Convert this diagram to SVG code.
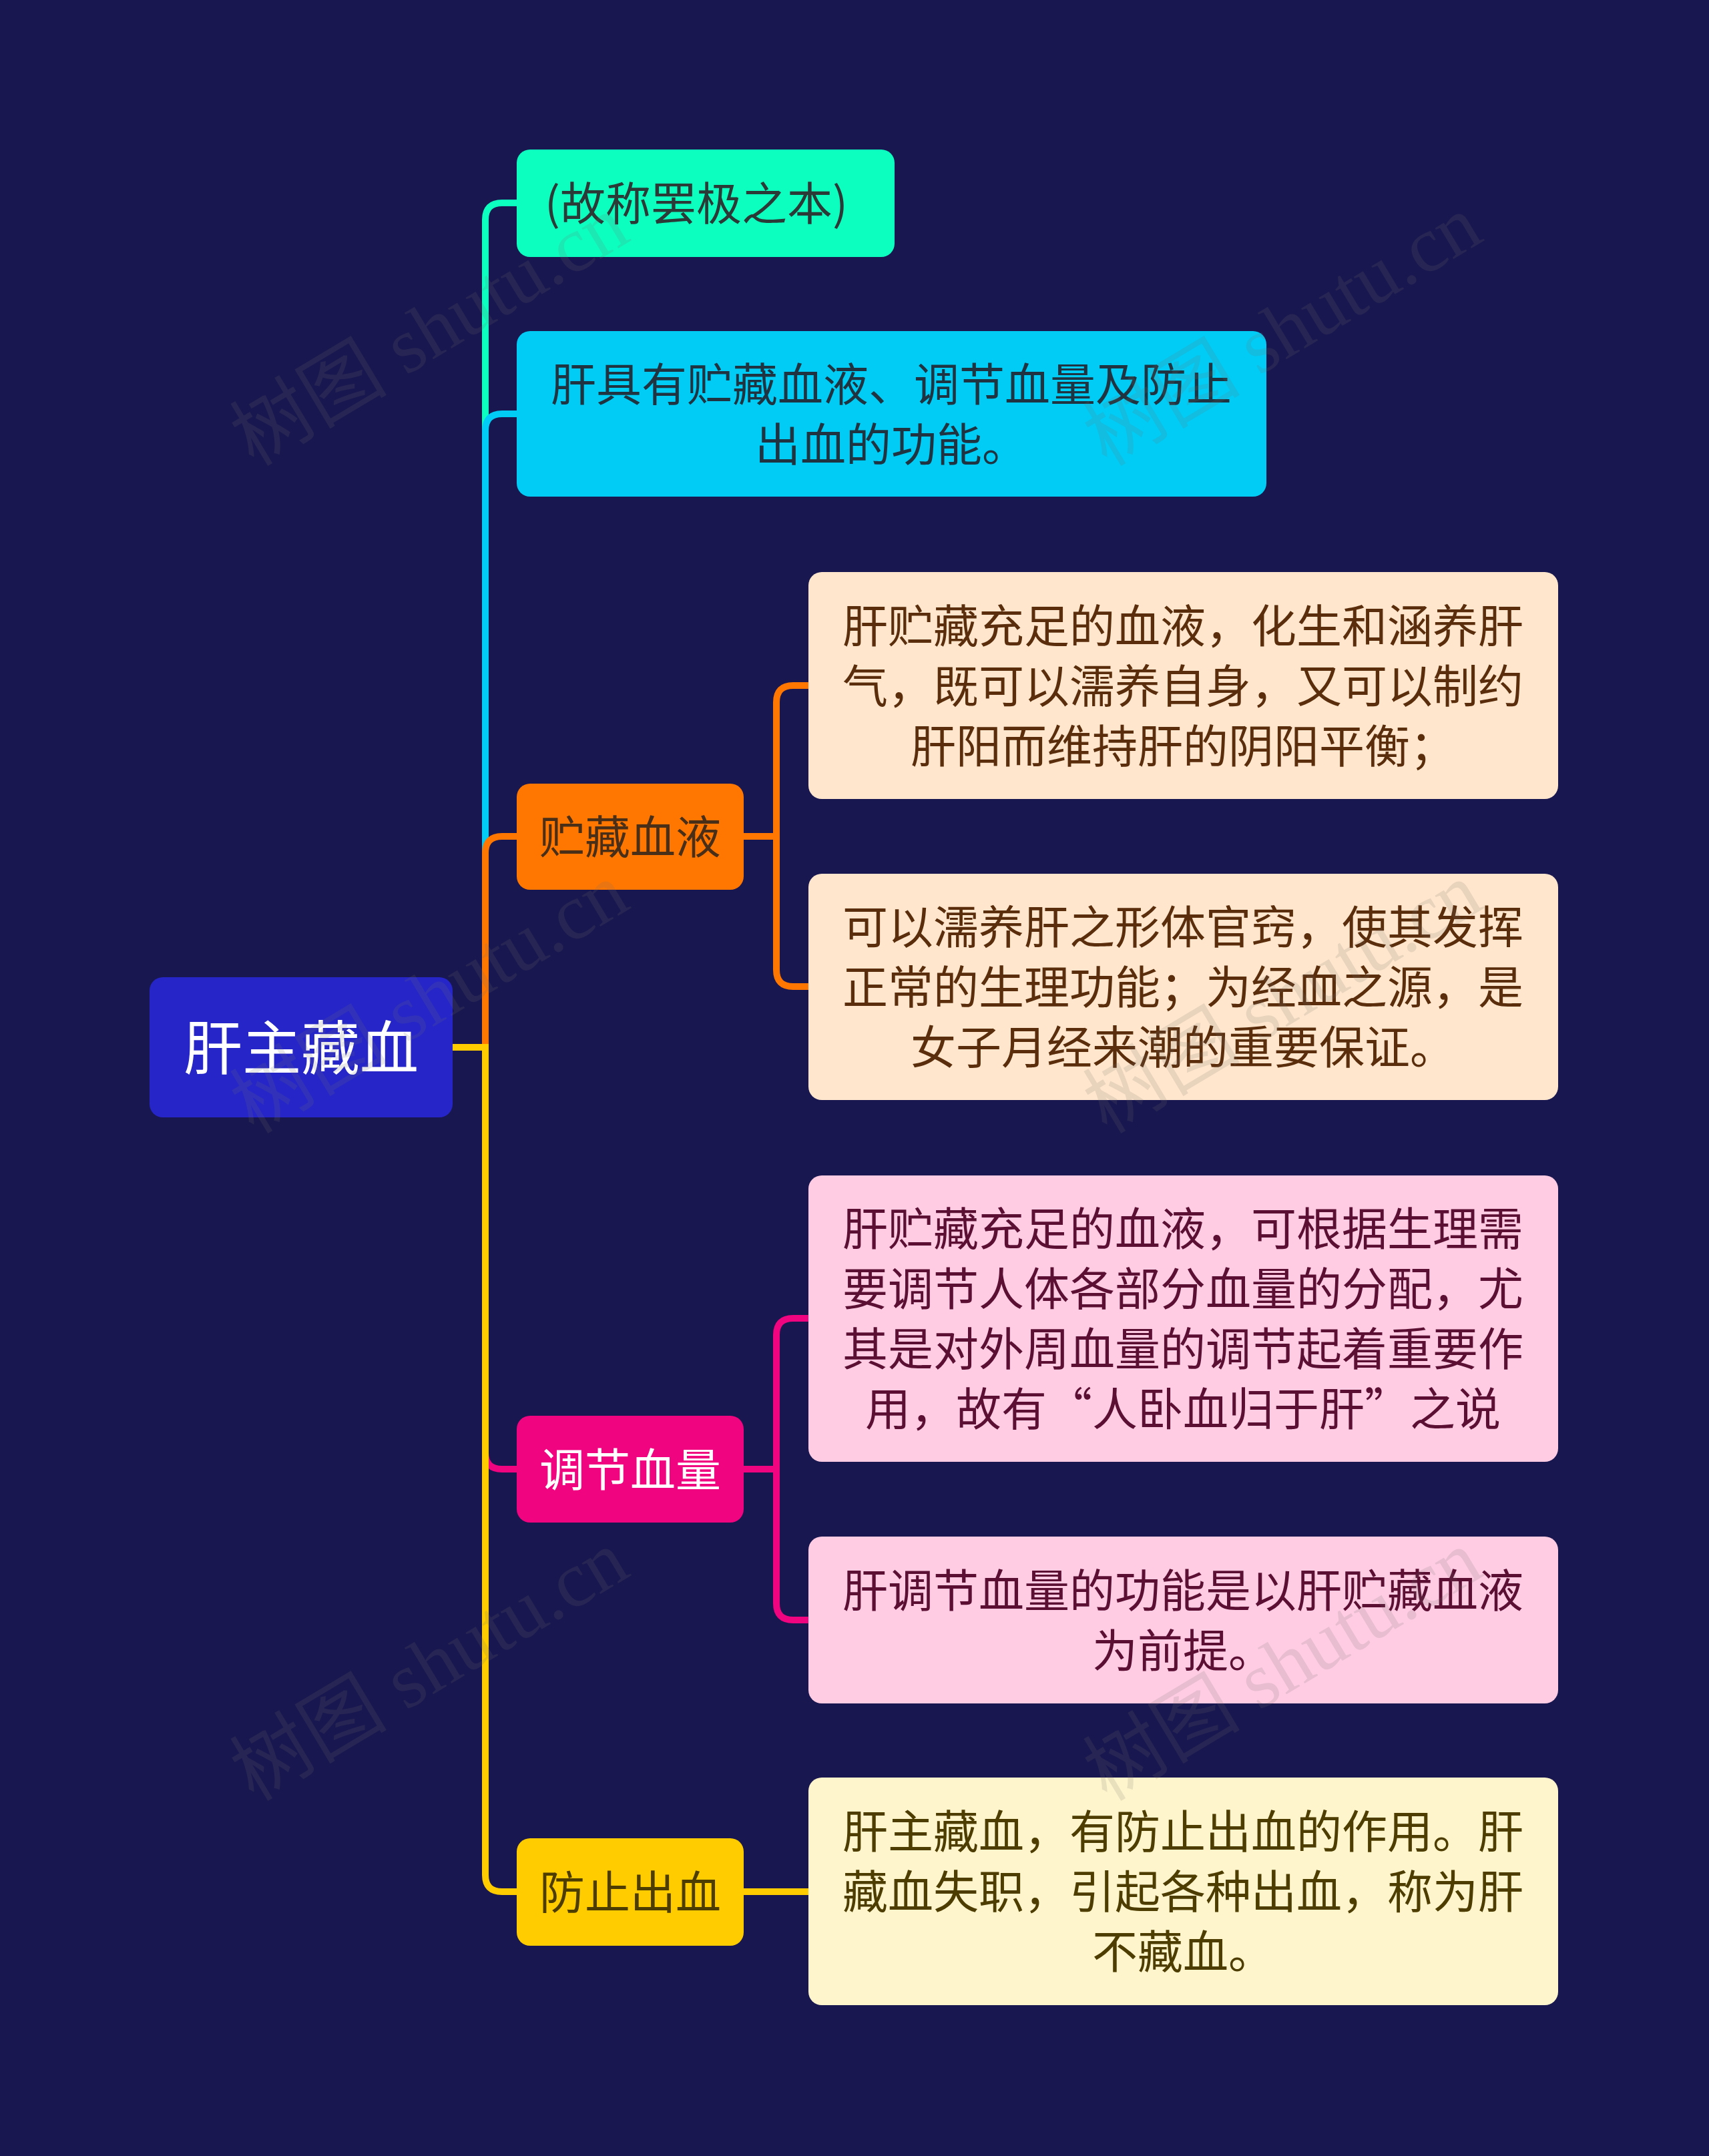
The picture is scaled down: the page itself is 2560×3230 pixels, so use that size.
<svg xmlns="http://www.w3.org/2000/svg" width="2560" height="3230" viewBox="0 0 2560 3230">
<style>
text{font-family:"Noto Sans CJK SC","Noto Sans",sans-serif;text-anchor:middle}
.t{font-size:68px}
.root{font-size:88px;fill:#ffffff}
.c{fill:none;stroke-width:10}
.wm{font-family:"Liberation Serif","Noto Sans CJK SC",serif;font-size:118px;fill:#707070;fill-opacity:0.16;text-anchor:start}
</style>
<rect x="0" y="0" width="2560" height="3230" fill="#19174f"/>
<g id="connectors">
<path class="c" stroke="#0dffc0" d="M678 1569 H727 V329 Q727 304 752 304 H776"/>
<path class="c" stroke="#00ccf5" d="M678 1569 H727 V645 Q727 620 752 620 H776"/>
<path class="c" stroke="#ff7700" d="M678 1569 H727 V1278 Q727 1253 752 1253 H776"/>
<path class="c" stroke="#f0047f" d="M678 1569 H727 V2176 Q727 2201 752 2201 H776"/>
<path class="c" stroke="#ffcc00" d="M678 1569 H727 V2809 Q727 2834 752 2834 H776"/>
<path class="c" stroke="#ff7700" d="M1112 1253 H1163 V1052 Q1163 1027 1188 1027 H1213"/>
<path class="c" stroke="#ff7700" d="M1112 1253 H1163 V1453 Q1163 1478 1188 1478 H1213"/>
<path class="c" stroke="#f0047f" d="M1112 2201 H1163 V2000 Q1163 1975 1188 1975 H1213"/>
<path class="c" stroke="#f0047f" d="M1112 2201 H1163 V2402 Q1163 2427 1188 2427 H1213"/>
<path class="c" stroke="#ffcc00" d="M1112 2834 H1213"/>
</g>
<g id="root">
<rect x="224" y="1464" width="454" height="210" rx="20" fill="#2626c8"/>
<text class="root" x="451" y="1602">肝主藏血</text>
</g>
<g id="n1">
<rect x="774" y="224" width="566" height="161" rx="20" fill="#0dffc0"/>
<text class="t" x="1043" y="330" fill="#2b3a36">(故称罢极之本)</text>
</g>
<g id="n2">
<rect x="774" y="496" width="1123" height="248" rx="20" fill="#00ccf5"/>
<text class="t" fill="#1f3440"><tspan x="1335" y="601">肝具有贮藏血液、调节血量及防止</tspan><tspan x="1335" y="691">出血的功能。</tspan></text>
</g>
<g id="n3">
<rect x="774" y="1174" width="340" height="159" rx="20" fill="#ff7700"/>
<text class="t" x="944" y="1279" fill="#4a2f18">贮藏血液</text>
</g>
<g id="n3a">
<rect x="1211" y="857" width="1123" height="340" rx="20" fill="#ffe6cc"/>
<text class="t" fill="#5a2e0c"><tspan x="1772" y="963">肝贮藏充足的血液，化生和涵养肝</tspan><tspan x="1772" y="1053">气，既可以濡养自身，又可以制约</tspan><tspan x="1772" y="1143">肝阳而维持肝的阴阳平衡；</tspan></text>
</g>
<g id="n3b">
<rect x="1211" y="1309" width="1123" height="339" rx="20" fill="#ffe6cc"/>
<text class="t" fill="#5a2e0c"><tspan x="1772" y="1414">可以濡养肝之形体官窍，使其发挥</tspan><tspan x="1772" y="1504">正常的生理功能；为经血之源，是</tspan><tspan x="1772" y="1594">女子月经来潮的重要保证。</tspan></text>
</g>
<g id="n4">
<rect x="774" y="2121" width="340" height="160" rx="20" fill="#f0047f"/>
<text class="t" x="944" y="2227" fill="#ffffff">调节血量</text>
</g>
<g id="n4a">
<rect x="1211" y="1761" width="1123" height="429" rx="20" fill="#ffcce3"/>
<text class="t" fill="#5a0f33"><tspan x="1772" y="1866">肝贮藏充足的血液，可根据生理需</tspan><tspan x="1772" y="1956">要调节人体各部分血量的分配，尤</tspan><tspan x="1772" y="2046">其是对外周血量的调节起着重要作</tspan><tspan x="1772" y="2136">用，故有“人卧血归于肝”之说</tspan></text>
</g>
<g id="n4b">
<rect x="1211" y="2302" width="1123" height="250" rx="20" fill="#ffcce3"/>
<text class="t" fill="#5a0f33"><tspan x="1772" y="2408">肝调节血量的功能是以肝贮藏血液</tspan><tspan x="1772" y="2498">为前提。</tspan></text>
</g>
<g id="n5">
<rect x="774" y="2754" width="340" height="161" rx="20" fill="#ffcc00"/>
<text class="t" x="944" y="2860" fill="#4d3d00">防止出血</text>
</g>
<g id="n5a">
<rect x="1211" y="2663" width="1123" height="341" rx="20" fill="#fff5cc"/>
<text class="t" fill="#4d3d00"><tspan x="1772" y="2769">肝主藏血，有防止出血的作用。肝</tspan><tspan x="1772" y="2859">藏血失职，引起各种出血，称为肝</tspan><tspan x="1772" y="2949">不藏血。</tspan></text>
</g>
<g id="watermarks">
<text class="wm" transform="translate(380,700) rotate(-31)">树图 shutu.cn</text>
<text class="wm" transform="translate(1658,700) rotate(-31)">树图 shutu.cn</text>
<text class="wm" transform="translate(380,1700) rotate(-31)">树图 shutu.cn</text>
<text class="wm" transform="translate(1658,1700) rotate(-31)">树图 shutu.cn</text>
<text class="wm" transform="translate(380,2700) rotate(-31)">树图 shutu.cn</text>
<text class="wm" transform="translate(1658,2700) rotate(-31)">树图 shutu.cn</text>
</g>
</svg>
